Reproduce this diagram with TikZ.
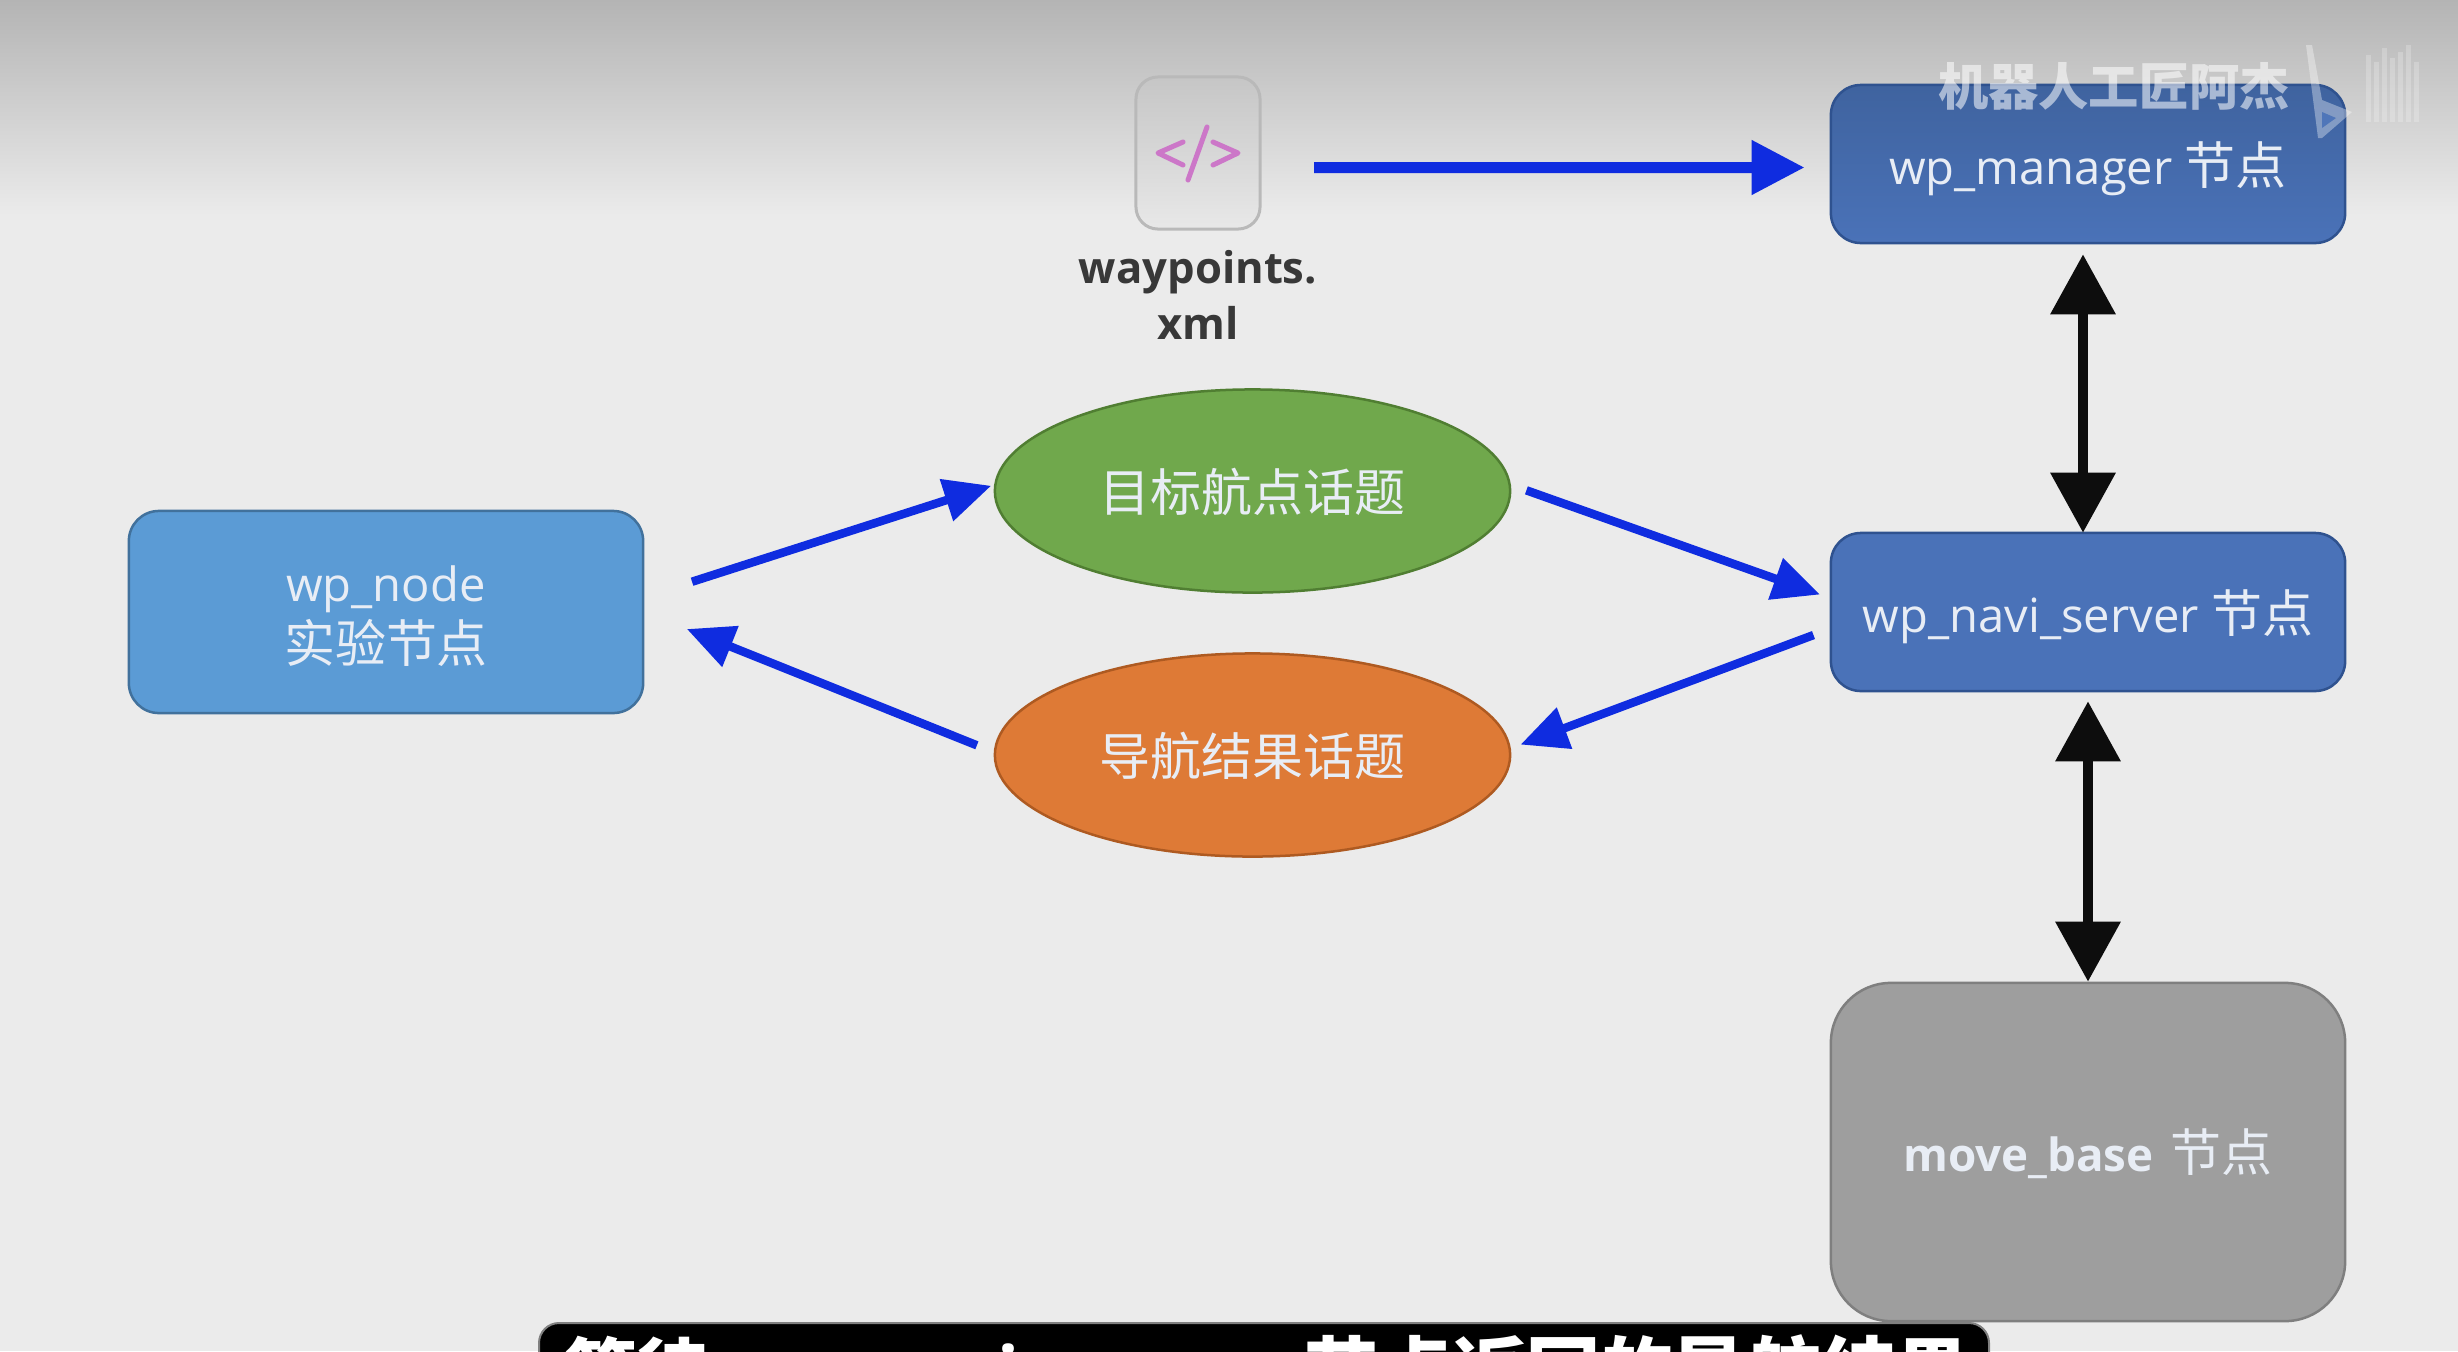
\documentclass[tikz,border=0pt]{standalone}
\usepackage{fontspec}
\usetikzlibrary{shapes.geometric,arrows.meta}
\setmainfont{Open Sans}
\newfontfamily\cjk{Noto Sans CJK SC}
\newcommand{\lat}{\fontsize{13.4}{17.2}\selectfont}
\newcommand{\han}[1]{{\cjk\fontsize{14.5}{17.2}\selectfont #1}}
\newcommand{\lowerby}[2]{\raisebox{-#1}[\height][\depth]{#2}}
\definecolor{bgc}{HTML}{EBEBEB}
\definecolor{bgtop}{HTML}{B4B4B4}
\definecolor{lblue}{HTML}{5B9BD5}
\definecolor{lblueb}{HTML}{41719C}
\definecolor{dblue}{HTML}{4A72B8}
\definecolor{dblueb}{HTML}{2F528F}
\definecolor{dbluetop}{HTML}{3F639F}
\definecolor{gfill}{HTML}{70A84C}
\definecolor{gline}{HTML}{507E32}
\definecolor{ofill}{HTML}{DE7A36}
\definecolor{oline}{HTML}{AE5A21}
\definecolor{gyfill}{HTML}{9E9E9E}
\definecolor{gyline}{HTML}{7F7F7F}
\definecolor{arrowblue}{HTML}{0F2CE0}
\definecolor{arrowblack}{HTML}{0D0D0D}
\definecolor{txt}{HTML}{E8EDF5}
\definecolor{codepink}{HTML}{CC77C8}
\tikzset{
  boxbase/.style={rectangle,rounded corners=0.3cm,line width=0.025cm,inner sep=0pt,align=center,text=txt,font=\lat},
  bluenode/.style={boxbase,draw=lblueb,fill=lblue,minimum width=5.14cm,minimum height=2.02cm},
  navnode/.style={boxbase,draw=dblueb,fill=dblue,minimum width=5.14cm,minimum height=1.58cm},
  greynode/.style={boxbase,draw=gyline,fill=gyfill,rounded corners=0.6cm,minimum width=5.14cm,minimum height=3.38cm},
  topic/.style={ellipse,line width=0.025cm,inner sep=0pt,text=txt,minimum width=5.15cm,minimum height=2.03cm,font=\cjk\fontsize{14.5}{19}\selectfont},
  bluearrow/.style={draw=arrowblue,line width=0.085cm,-{Triangle[length=0.47cm,width=0.42cm,fill=arrowblue]}},
  blackarrow/.style={draw=arrowblack,line width=0.1cm,{Triangle[length=0.6cm,width=0.63cm,fill=arrowblack]}-{Triangle[length=0.6cm,width=0.63cm,fill=arrowblack]}}
}
\begin{document}
\begin{tikzpicture}[x=0.01cm,y=-0.01cm]
\useasboundingbox (0,0) rectangle (2458,1351);
\fill[bgc] (0,0) rectangle (2458,1351);
\shade[top color=bgtop,bottom color=bgc,shading angle=0] (0,0) rectangle (2458,215);

\node[bluenode] (wpnode) at (386,612) {\lowerby{2.2pt}{\begin{tabular}{@{}c@{}}wp\_node\\\han{实验节点}\end{tabular}}};
\node[navnode,draw=dblueb,top color=dbluetop,bottom color=dblue,text=txt] (manager) at (2088,164) {\lowerby{1.3pt}{wp\_manager \han{节点}}};
\node[navnode] (navi) at (2088,612) {\lowerby{1.3pt}{wp\_navi\_server \han{节点}}};
\node[greynode] (movebase) at (2088,1152) {\lowerby{0.5pt}{{\bfseries\fontsize{13}{17}\selectfont move\_base}\hspace{0.05cm} \han{节点}}};
\node[topic,draw=gline,fill=gfill] (goal) at (1252.5,491) {\lowerby{0.4pt}{目标航点话题}};
\node[topic,draw=oline,fill=ofill] (result) at (1252.5,755) {\lowerby{0.4pt}{导航结果话题}};

\node[rectangle,rounded corners=0.22cm,draw=gray!55,line width=0.03cm,top color=gray!45!white,bottom color=gray!18!white,minimum width=1.24cm,minimum height=1.52cm,inner sep=0pt] (icon) at (1198,153) {};
\draw[codepink,line width=0.05cm,line cap=round,line join=round] (1183,142) -- (1158,153) -- (1183,165);
\draw[codepink,line width=0.05cm,line cap=round] (1207,127) -- (1188,180);
\draw[codepink,line width=0.05cm,line cap=round,line join=round] (1213,142) -- (1238,153) -- (1213,165);
\node[anchor=base,text=black!78,font=\bfseries\fontsize{12.4}{16}\selectfont] (wplabel) at (1198,283) {waypoints.};
\node[anchor=base,text=black!78,font=\bfseries\fontsize{12.4}{16}\selectfont] (xmllabel) at (1198,339) {xml};

\draw[draw=arrowblue,line width=0.11cm,-{Triangle[length=0.53cm,width=0.52cm,fill=arrowblue]},shorten <=0.525cm,shorten >=0.25cm] ([yshift=-0.145cm]icon.east) -- ([yshift=-0.035cm]manager.west);
\draw[bluearrow,shorten <=0.50cm,shorten >=0.025cm] ([yshift=0.15cm]wpnode.east) -- ([yshift=0.06cm]goal.west);
\draw[bluearrow,shorten <=0.18cm,shorten >=0.457cm] ([yshift=0.03cm]result.west) -- (wpnode.east);
\draw[bluearrow,shorten <=0.159cm,shorten >=0.103cm] ([yshift=0.06cm]goal.east) -- ([yshift=0.14cm]navi.west);
\draw[bluearrow,shorten <=0.172cm,shorten >=0.097cm] ([yshift=-0.17cm]navi.west) -- ([yshift=0.07cm]result.east);
\draw[blackarrow,shorten <=0.10cm,shorten >=-0.01cm] ([xshift=-0.05cm]manager.south) -- ([xshift=-0.05cm]navi.north);
\draw[blackarrow,shorten <=0.09cm,shorten >=0cm] (navi.south) -- (movebase.north);

% watermark
\node[text=white,opacity=0.55,font=\cjk\bfseries\fontsize{14.3}{16}\selectfont] (mark) at (2114,86) {机器人工匠阿杰};
\fill[white,opacity=0.35] (2306,45) -- (2312,45) -- (2322,100) -- (2352,112) -- (2322,138) -- (2318,138) -- cycle;
\fill[dblue,opacity=0.9] (2322,112) -- (2336,118) -- (2322,128) -- cycle;
\foreach \px/\py in {2368/55,2376/62,2384/48,2392/58,2400/52,2408/45,2416/62}
  \draw[white,opacity=0.22,line width=0.05cm] (\px,\py) -- (\px,122);

% caption
\begin{scope}
\clip (0,0) rectangle (2458,1351);
\fill[black,draw=gray,line width=0.02cm,rounded corners=0.2cm] (539,1323) rectangle (1989,1420);
\node[anchor=base west,text=white,inner sep=0pt,font=\bfseries\fontsize{20.5}{24}\selectfont] (caption) at (565,1398) {{\cjk 等待} wp\_navi\_server\hspace{0.28cm}{\cjk\fontsize{21}{24}\selectfont 节点返回的导航结果}};
\end{scope}
\end{tikzpicture}
\end{document}
